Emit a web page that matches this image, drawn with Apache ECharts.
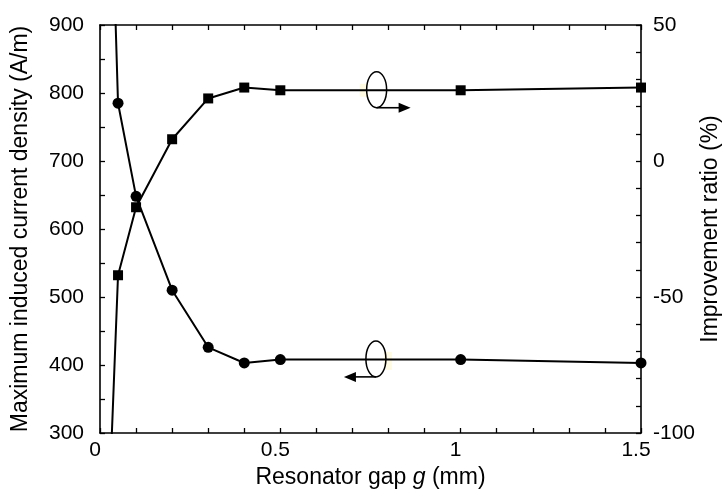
<!DOCTYPE html>
<html>
<head>
<meta charset="utf-8">
<script src="https://cdn.jsdelivr.net/npm/echarts@6/dist/echarts.min.js"></script>
<style>html,body{margin:0;padding:0;background:#fff}#c{width:723px;height:497px}</style>
</head>
<body>
<div id="c"></div>
<script>
// Resonator gap g (mm)
const gaps = [0.01, 0.05, 0.1, 0.2, 0.3, 0.4, 0.5, 1.0, 1.5];
// Maximum induced current density (A/m), circles, left axis
const currentDensity = [1484, 785, 648, 510, 426, 403, 408, 408, 403];
// Improvement ratio (%), squares, right axis
const improvement = [-178, -42, -17, 8, 23, 27, 26, 26, 27];

const xTicks = { min: 0, max: 1.5, step: 0.1, labelStep: 0.5 };
const leftTicks = { min: 300, max: 900, step: 50, labelStep: 100 };
const rightTicks = { min: -100, max: 50, step: 10, labelStep: 50 };

const FONT = 'Liberation Sans, Arial, Helvetica, sans-serif';
const isMult = (v, s) => Math.abs(v / s - Math.round(v / s)) < 1e-6;
const fmt = (s) => (v) => isMult(v, s) ? String(+v.toFixed(2)) : '';

const chart = echarts.init(document.getElementById('c'));
const lineStyleAxis = { color: '#000', width: 1.6 };
const tick = { show: true, inside: true, length: 5, lineStyle: { color: '#000', width: 1.3 } };

const xBase = {
  type: 'value', min: xTicks.min, max: xTicks.max, interval: xTicks.step,
  axisLine: { show: true, onZero: false, lineStyle: lineStyleAxis },
  axisTick: tick, splitLine: { show: false }
};

chart.setOption({
  animation: false,
  backgroundColor: '#fff',
  grid: { left: 100, right: 82, top: 25, bottom: 64, containLabel: false, outerBoundsMode: 'none' },
  xAxis: [
    Object.assign({}, xBase, {
      position: 'bottom',
      axisLabel: { formatter: fmt(xTicks.labelStep), color: '#000', fontSize: 21, fontFamily: FONT, margin: 7, padding: [0, 10, 0, 0] },
      name: '{n|Resonator gap }{i|g}{n| (mm)}',
      nameLocation: 'middle', nameGap: 33, nameMoveOverlap: false,
      nameTextStyle: { rich: { n: { fontSize: 23, fontFamily: FONT, color: '#000' }, i: { fontSize: 23, fontFamily: FONT, fontStyle: 'italic', color: '#000' } } }
    }),
    Object.assign({}, xBase, { position: 'top', axisLabel: { show: false } })
  ],
  yAxis: [
    {
      type: 'value', position: 'left', min: leftTicks.min, max: leftTicks.max, interval: leftTicks.step,
      axisLine: { show: true, onZero: false, lineStyle: lineStyleAxis }, axisTick: tick, splitLine: { show: false },
      axisLabel: { formatter: fmt(leftTicks.labelStep), color: '#000', fontSize: 21, fontFamily: FONT, margin: 16 },
      name: 'Maximum induced current density (A/m)', nameLocation: 'middle', nameGap: 68, nameMoveOverlap: false,
      nameTextStyle: { fontSize: 23, fontFamily: FONT, color: '#000' }
    },
    {
      type: 'value', position: 'right', min: rightTicks.min, max: rightTicks.max, interval: rightTicks.step,
      axisLine: { show: true, onZero: false, lineStyle: lineStyleAxis }, axisTick: tick, splitLine: { show: false },
      axisLabel: { formatter: fmt(rightTicks.labelStep), color: '#000', fontSize: 21, fontFamily: FONT, margin: 12 },
      name: 'Improvement ratio (%)', nameLocation: 'middle', nameGap: 58, nameMoveOverlap: false,
      nameTextStyle: { fontSize: 23, fontFamily: FONT, color: '#000' }
    }
  ],
  series: [
    {
      type: 'line', xAxisIndex: 0, yAxisIndex: 0, clip: true,
      data: gaps.map((g, i) => [g, currentDensity[i]]),
      symbol: 'circle', symbolSize: 11,
      lineStyle: { color: '#000', width: 2 }, itemStyle: { color: '#000' }
    },
    {
      type: 'line', xAxisIndex: 0, yAxisIndex: 1, clip: true,
      data: gaps.map((g, i) => [g, improvement[i]]),
      symbol: 'rect', symbolSize: 10,
      lineStyle: { color: '#000', width: 2 }, itemStyle: { color: '#000' }
    }
  ]
});

// Annotation loops (data-space anchors)
function addLoops() {
  const up = chart.convertToPixel({ xAxisIndex: 0, yAxisIndex: 1 }, [0.767, 26.2]);
  const lo = chart.convertToPixel({ xAxisIndex: 0, yAxisIndex: 0 }, [0.765, 409]);
  const rx = 10, ry = 18;
  const els = [];
  els.push({ type: 'rect', shape: { x: up[0] - 17, y: up[1] - 6, width: 8, height: 13 }, style: { fill: '#fffbe3' }, z: 1 });
  els.push({ type: 'rect', shape: { x: lo[0] + 8, y: lo[1] - 7, width: 8, height: 18 }, style: { fill: '#fffbe3' }, z: 1 });
  [up, lo].forEach((p) => {
    els.push({ type: 'ellipse', shape: { cx: p[0], cy: p[1], rx: rx, ry: ry }, style: { fill: null, stroke: '#000', lineWidth: 1.5 }, z: 100 });
  });
  const uy = up[1] + ry;
  els.push({ type: 'line', shape: { x1: up[0], y1: uy, x2: up[0] + 24, y2: uy }, style: { stroke: '#000', lineWidth: 1.6 }, z: 100 });
  els.push({ type: 'polygon', shape: { points: [[up[0] + 22, uy - 5], [up[0] + 34, uy], [up[0] + 22, uy + 5]] }, style: { fill: '#000' }, z: 100 });
  const ly = lo[1] + ry;
  els.push({ type: 'line', shape: { x1: lo[0], y1: ly, x2: lo[0] - 22, y2: ly }, style: { stroke: '#000', lineWidth: 1.6 }, z: 100 });
  els.push({ type: 'polygon', shape: { points: [[lo[0] - 20, ly - 5], [lo[0] - 32, ly], [lo[0] - 20, ly + 5]] }, style: { fill: '#000' }, z: 100 });
  chart.setOption({ graphic: { elements: els } });
}
addLoops();
</script>
</body>
</html>
